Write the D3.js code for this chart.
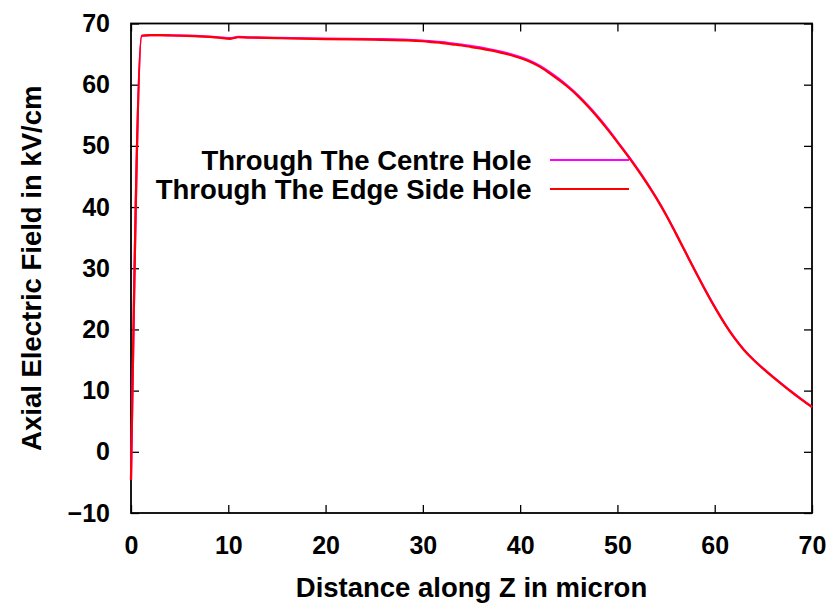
<!DOCTYPE html>
<html>
<head>
<meta charset="utf-8">
<script src="https://cdn.jsdelivr.net/npm/d3@7"></script>
<style>
  html, body { margin: 0; padding: 0; background: #fff; }
  svg text { font-family: "Liberation Sans", Arial, Helvetica, sans-serif; font-weight: bold; fill: #000; }
</style>
</head>
<body>
<svg id="chart" width="836" height="603"></svg>
<script>
// Distance along the axis (micron)
const zPositions = [0, 1.1, 2, 3, 5, 7, 9, 10.2, 11, 12, 15, 20, 25, 28, 30, 31, 32, 33, 34, 35, 36, 37, 38, 39, 40, 41, 42, 43, 44, 45, 46, 47, 48, 49, 50, 51, 52, 53, 54, 55, 56, 57, 58, 59, 60, 61, 62, 63, 64, 65, 66, 67, 68, 69, 70];
// Axial field through the centre hole (kV/cm)
const centreField = [-4.6, 68.0, 68.1, 68.1, 68.05, 67.95, 67.75, 67.6, 67.8, 67.75, 67.65, 67.55, 67.45, 67.35, 67.2, 67.1, 66.95, 66.75, 66.55, 66.3, 66.05, 65.75, 65.4, 65.0, 64.5, 63.9, 63.1, 62.1, 60.95, 59.65, 58.2, 56.55, 54.75, 52.8, 50.7, 48.6, 46.4, 44.05, 41.5, 38.75, 35.75, 32.65, 29.55, 26.55, 23.7, 21.05, 18.7, 16.7, 15.05, 13.6, 12.25, 10.95, 9.7, 8.5, 7.35];
// Axial field through the edge side hole (kV/cm)
const edgeField = [-4.6, 68.0, 68.1, 68.1, 68.0, 67.9, 67.7, 67.5, 67.75, 67.7, 67.6, 67.45, 67.35, 67.25, 67.1, 66.95, 66.8, 66.6, 66.4, 66.15, 65.9, 65.6, 65.25, 64.85, 64.35, 63.75, 62.95, 61.9, 60.75, 59.5, 58.05, 56.4, 54.6, 52.65, 50.6, 48.5, 46.3, 43.95, 41.45, 38.7, 35.7, 32.6, 29.5, 26.5, 23.65, 21.0, 18.65, 16.65, 15.0, 13.55, 12.2, 10.9, 9.65, 8.45, 7.3];

const xTicks = [0, 10, 20, 30, 40, 50, 60, 70];
const yTicks = [-10, 0, 10, 20, 30, 40, 50, 60, 70];

const seriesNames = ["Through The Centre Hole", "Through The Edge Side Hole"];
const seriesColors = ["#ff00ff", "#ff0000"];

const svg = d3.select("#chart");
const margin = { left: 131, right: 24, top: 23.5, bottom: 90 };
const W = 836, H = 603;

const x = d3.scaleLinear().domain([0, 70]).range([margin.left, W - margin.right]);
const y = d3.scaleLinear().domain([-10, 70]).range([H - margin.bottom, margin.top]);

const tickLen = 8;

// Axes with inward ticks on all four sides
const axisStyle = g => {
  g.select(".domain").remove();
  g.selectAll(".tick line").attr("stroke", "#000").attr("stroke-width", 1.3);
  g.selectAll(".tick text").style("font-size", "25px").attr("fill", "#000");
};

svg.append("g")
  .attr("transform", `translate(0,${y(-10)})`)
  .call(d3.axisBottom(x).tickValues(xTicks).tickFormat(d3.format("d")).tickSizeInner(-tickLen).tickSizeOuter(0).tickPadding(23))
  .call(axisStyle);

svg.append("g")
  .attr("transform", `translate(0,${y(70)})`)
  .call(d3.axisTop(x).tickValues(xTicks).tickFormat("").tickSizeInner(-tickLen).tickSizeOuter(0))
  .call(axisStyle);

svg.append("g")
  .attr("transform", `translate(${x(0)},0)`)
  .call(d3.axisLeft(y).tickValues(yTicks).tickFormat(d3.format("d")).tickSizeInner(-tickLen).tickSizeOuter(0).tickPadding(21))
  .call(axisStyle);

svg.append("g")
  .attr("transform", `translate(${x(70)},0)`)
  .call(d3.axisRight(y).tickValues(yTicks).tickFormat("").tickSizeInner(-tickLen).tickSizeOuter(0))
  .call(axisStyle);

// Plot frame
svg.append("rect")
  .attr("x", x(0)).attr("y", y(70))
  .attr("width", x(70) - x(0)).attr("height", y(-10) - y(70))
  .attr("fill", "none").attr("stroke", "#000").attr("stroke-width", 1.8);

// Field curves
const line = d3.line()
  .x(d => x(d[0]))
  .y(d => y(d[1]))
  .curve(d3.curveMonotoneX);

[centreField, edgeField].forEach((vals, i) => {
  svg.append("path")
    .datum(zPositions.map((z, k) => [z, vals[k]]))
    .attr("fill", "none")
    .attr("stroke", seriesColors[i])
    .attr("stroke-width", 2.2)
    .attr("stroke-linejoin", "round")
    .attr("d", line);
});

// Legend
const legendRight = 531.5;
const legendBase = [169.5, 198.5];
seriesNames.forEach((name, i) => {
  svg.append("text")
    .attr("x", legendRight).attr("y", legendBase[i])
    .attr("text-anchor", "end")
    .style("font-size", "27.5px")
    .text(name);
  svg.append("line")
    .attr("x1", 550).attr("x2", 629)
    .attr("y1", legendBase[i] - 9.5).attr("y2", legendBase[i] - 9.5)
    .attr("stroke", seriesColors[i]).attr("stroke-width", 2.2);
});

// Axis titles
svg.append("text")
  .attr("x", (x(0) + x(70)) / 2).attr("y", 596.5)
  .attr("text-anchor", "middle")
  .style("font-size", "27.5px")
  .text("Distance along Z in micron");

svg.append("text")
  .attr("transform", `translate(41,${(y(70) + y(-10)) / 2}) rotate(-90)`)
  .attr("text-anchor", "middle")
  .style("font-size", "27.5px")
  .text("Axial Electric Field in kV/cm");
</script>
</body>
</html>
